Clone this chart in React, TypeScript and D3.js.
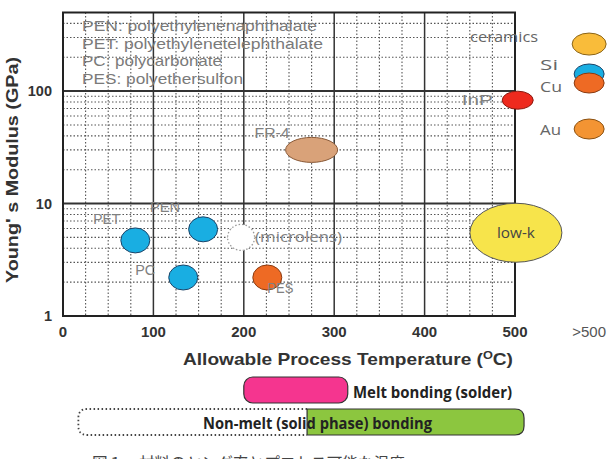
import React from "react";
import * as d3 from "d3";

// ---------- data ----------
const xTickValues = [0, 100, 200, 300, 400, 500];
const xTickLabels = ["0", "100", "200", "300", "400", "500"];
const overTemp = 582; // position of the ">500" column
const overLabel = ">500";
const yTickValues = [1, 10, 100];
const yTickLabels = ["1", "10", "100"];

const materialNames = ["PET", "PEN", "PC", "(microlens)", "PES", "FR-4", "InP", "low-k"];
const materialTemps = [80, 155, 133, 197, 226, 275, 503, 501];
const materialModuli = [4.7, 5.9, 2.2, 5.0, 2.2, 30, 83, 5.5];

const highTempNames = ["ceramics", "Si", "Cu", "Au"];
const highTempModuli = [262, 142, 118, 46];

const abbreviations = [
  "PEN: polyethylenenaphthalate",
  "PET: polyethylenetelephthalate",
  "PC: polycarbonate",
  "PES: polyethersulfon",
];

const meltRange = [200, 315];
const nonMeltRange = [17, 510];
const solidPhaseRange = [270, 510];

const xTitle = "Allowable Process Temperature (";
const yTitle = "Young' s Modulus  (GPa)";
const meltLabel = "Melt bonding (solder)";
const nonMeltLabel = "Non-melt (solid phase) bonding";
const caption = "図１　材料のヤング率とプロセス可能な温度";

// ---------- styles ----------
const ARIAL = "Liberation Sans, Arial, sans-serif";
const HUMAN = "Open Sans, Noto Sans, sans-serif";
const BLUE = "#19AEE2";

type MS = {
  fill: string; stroke: string; rx: number; ry: number; dash?: string;
  lx: number; ly: number; lw: number; anchor?: string; font?: string; color?: string;
};
const markStyle: Record<string, MS> = {
  PET: { fill: BLUE, stroke: "#1d4468", rx: 14.5, ry: 12.5, lx: -42, ly: -16, lw: 27 },
  PEN: { fill: BLUE, stroke: "#1d4468", rx: 14.5, ry: 12.5, lx: -53, ly: -17, lw: 30 },
  PC: { fill: BLUE, stroke: "#1d4468", rx: 14.5, ry: 12.5, lx: -48, ly: -2, lw: 20 },
  "(microlens)": { fill: "#ffffff", stroke: "#999", rx: 13.5, ry: 13, dash: "1.5 2", lx: 14, ly: 5, lw: 87, font: HUMAN },
  PES: { fill: "#EE6A24", stroke: "#8a3a10", rx: 14.5, ry: 12.5, lx: 0, ly: 15.5, lw: 26 },
  "FR-4": { fill: "#D9A279", stroke: "#8a5a38", rx: 26, ry: 12.5, lx: -57, ly: -12, lw: 35 },
  InP: { fill: "#EE2A1E", stroke: "#8a1a10", rx: 15.5, ry: 9, lx: -56, ly: 5, lw: 31 },
  "low-k": { fill: "#F7E44B", stroke: "#555", rx: 46, ry: 29.5, lx: 0, ly: 5, lw: 38, anchor: "middle", font: HUMAN, color: "#444" },
  ceramics: { fill: "#F9BC3A", stroke: "#8a6418", rx: 17, ry: 11, lx: -51, ly: -2, lw: 68, anchor: "end", font: HUMAN, color: "#666" },
  Si: { fill: BLUE, stroke: "#1d4468", rx: 15, ry: 10, lx: -49, ly: -4, lw: 18, font: HUMAN, color: "#666" },
  Cu: { fill: "#EE6A24", stroke: "#8a3a10", rx: 15, ry: 10, lx: -49, ly: 9, lw: 22, font: HUMAN, color: "#666" },
  Au: { fill: "#F39433", stroke: "#8a5010", rx: 15, ry: 10, lx: -49, ly: 6, lw: 21, font: HUMAN, color: "#666" },
};

const W = 615;
const H = 459;

export default function App() {
  const x = d3.scaleLinear().domain([0, 500]).range([63, 515]);
  const y = d3.scaleLog().domain([1, 500]).range([316, 12.5]);

  const minorX = d3.range(25, 500, 25).filter((v) => v % 100 !== 0);
  const minorY: number[] = [];
  [1, 10, 100].forEach((dec) => {
    for (let m = 2; m <= 9; m++) {
      const v = dec * m;
      if (v < 500) minorY.push(v);
    }
  });
  const majorX = [100, 200, 300, 400];
  const majorY = [10, 100];

  const [x0, x1] = x.range();
  const [yb, yt] = y.range();

  const points = materialNames.map((n, i) => ({ name: n, cx: x(materialTemps[i]), cy: y(materialModuli[i]) }));
  const highPoints = highTempNames.map((n, i) => ({ name: n, cx: x(overTemp), cy: y(highTempModuli[i]) }));
  const allPoints = [...points, ...highPoints];

  const barH = 26;
  const meltY = 377;
  const nonY = 409;
  const r = 9;
  const nmX0 = x(nonMeltRange[0]);
  const nmX1 = x(nonMeltRange[1]);
  const spX0 = x(solidPhaseRange[0]);
  const spX1 = x(solidPhaseRange[1]);
  const dottedPath =
    `M${spX0},${nonY} L${nmX0 + r},${nonY} Q${nmX0},${nonY} ${nmX0},${nonY + r} ` +
    `L${nmX0},${nonY + barH - r} Q${nmX0},${nonY + barH} ${nmX0 + r},${nonY + barH} L${spX0},${nonY + barH}`;
  const greenPath =
    `M${spX0},${nonY} L${spX1 - r},${nonY} Q${spX1},${nonY} ${spX1},${nonY + r} ` +
    `L${spX1},${nonY + barH - r} Q${spX1},${nonY + barH} ${spX1 - r},${nonY + barH} L${spX0},${nonY + barH} Z`;

  return (
    <svg width={W} height={H} style={{ position: "absolute", left: 0, top: 0, background: "#fff" }}>
      <rect x={0} y={0} width={W} height={H} fill="#fff" />
      {/* minor dotted grid */}
      <g stroke="#555" strokeWidth={1.1} strokeDasharray="1.5 2">
        {minorX.map((v) => (
          <line key={"mx" + v} x1={x(v)} x2={x(v)} y1={yt} y2={yb} />
        ))}
        {minorY.map((v) => (
          <line key={"my" + v} x1={x0} x2={x1} y1={y(v)} y2={y(v)} />
        ))}
      </g>
      {/* major grid */}
      <g stroke="#333">
        {majorX.map((v) => (
          <line key={"Mx" + v} x1={x(v)} x2={x(v)} y1={yt} y2={yb} strokeWidth={1.5} />
        ))}
        {majorY.map((v) => (
          <line key={"My" + v} x1={x0} x2={x1} y1={y(v)} y2={y(v)} strokeWidth={2} />
        ))}
      </g>
      <rect x={x0} y={yt} width={x1 - x0} height={yb - yt} fill="none" stroke="#222" strokeWidth={2} />

      {/* abbreviations */}
      <g fontFamily={ARIAL} fontSize={14.5} fill="#7a7a7a">
        {abbreviations.map((t, i) => (
          <text key={t} x={82} y={31 + i * 17.7} textLength={[235, 241, 140, 161][i]} lengthAdjust="spacingAndGlyphs">
            {t}
          </text>
        ))}
      </g>

      {/* tick labels */}
      <g fontFamily={ARIAL} fontWeight="bold" fontSize={15} fill="#333" textAnchor="middle">
        {xTickValues.map((v, i) => (
          <text key={"xt" + v} x={x(v)} y={337}>
            {xTickLabels[i]}
          </text>
        ))}
      </g>
      <text x={x(overTemp)} y={337} fontFamily={ARIAL} fontSize={15} fill="#555" textAnchor="middle">
        {overLabel}
      </text>
      <g fontFamily={ARIAL} fontWeight="bold" fontSize={14.5} fill="#333" textAnchor="end">
        {yTickValues.map((v, i) => (
          <text key={"yt" + v} x={52} y={y(v) + 5}>
            {yTickLabels[i]}
          </text>
        ))}
      </g>

      {/* axis titles */}
      <text x={183} y={365} fontFamily={ARIAL} fontWeight="bold" fontSize={16.5} fill="#333" textLength={330} lengthAdjust="spacingAndGlyphs">
        {xTitle}
        <tspan fontSize={11} dy={-6}>O</tspan>
        <tspan dy={6}>C)</tspan>
      </text>
      <text
        transform={`translate(17.5,${170}) rotate(-90)`}
        textAnchor="middle"
        fontFamily={ARIAL}
        fontWeight="bold"
        fontSize={16.5}
        fill="#333"
        textLength={226}
        lengthAdjust="spacingAndGlyphs"
      >
        {yTitle}
      </text>

      {/* bubbles */}
      {allPoints.map((p) => {
        const s = markStyle[p.name];
        return (
          <ellipse
            key={"e" + p.name}
            cx={p.cx}
            cy={p.cy}
            rx={s.rx}
            ry={s.ry}
            fill={s.fill}
            stroke={s.stroke}
            strokeWidth={s.dash ? 1.3 : 1}
            strokeDasharray={s.dash}
          />
        );
      })}
      {allPoints.map((p) => {
        const s = markStyle[p.name];
        return (
          <text
            key={"t" + p.name}
            x={p.cx + s.lx}
            y={p.cy + s.ly}
            textAnchor={s.anchor || "start"}
            fontFamily={s.font || ARIAL}
            fontSize={14.5}
            fill={s.color || "#808080"}
            textLength={s.lw}
            lengthAdjust="spacingAndGlyphs"
          >
            {p.name}
          </text>
        );
      })}

      {/* bonding bars */}
      <rect
        x={x(meltRange[0])}
        y={meltY}
        width={x(meltRange[1]) - x(meltRange[0])}
        height={barH}
        rx={9}
        fill="#F5358F"
        stroke="#333"
        strokeWidth={1.2}
      />
      <text x={353} y={397.5} fontFamily={HUMAN} fontWeight="bold" fontSize={15.5} fill="#222" textLength={159} lengthAdjust="spacingAndGlyphs">
        {meltLabel}
      </text>
      <path d={greenPath} fill="#8CC63F" stroke="#333" strokeWidth={1.2} />
      <path d={dottedPath} fill="none" stroke="#444" strokeWidth={1.8} strokeDasharray="1.5 2.5" />
      <text x={203} y={428.5} fontFamily={HUMAN} fontWeight="bold" fontSize={15.5} fill="#222" textLength={229} lengthAdjust="spacingAndGlyphs">
        {nonMeltLabel}
      </text>

      {/* caption (cut off at the bottom edge) */}
      <text x={92} y={469} fontFamily="Noto Sans CJK JP, sans-serif" fontSize={16} fill="#444" textLength={313} lengthAdjust="spacingAndGlyphs">
        {caption}
      </text>
    </svg>
  );
}
